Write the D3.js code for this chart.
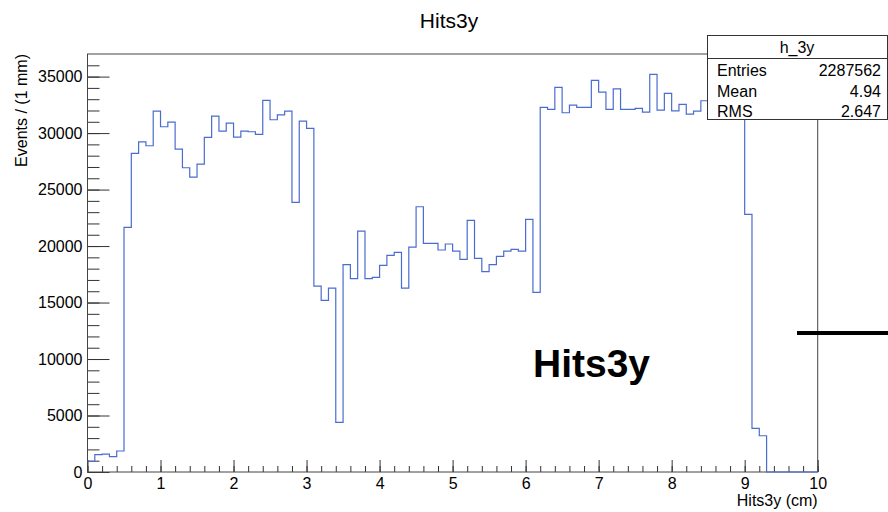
<!DOCTYPE html>
<html>
<head>
<meta charset="utf-8">
<script src="https://cdn.jsdelivr.net/npm/d3@7"></script>
<style>
    body { margin: 0; background: #fff; }
    text { font-family: "Liberation Sans", Arial, Helvetica, sans-serif; }
</style>
</head>
<body>
<div id="chart"></div>
<script>
// histogram h_3y, 100 bins of 1 mm from 0 to 10 cm
let xMin = 0, xMax = 10, binWidth = 0.1;
let counts = [
    950, 1530, 1590, 1360, 1860, 21650, 28200, 29230, 28880, 31950,
    30560, 30970, 28580, 26930, 26100, 27260, 29620, 31500, 30180, 30890,
    29650, 30180, 30120, 29880, 32890, 31180, 31620, 31950, 23870, 31060,
    30410, 16460, 15190, 16280, 4400, 18350, 17110, 21330, 17110, 17230,
    18290, 19180, 19440, 16280, 19910, 23480, 20240, 20240, 19650, 20180,
    19560, 18820, 22270, 18910, 17730, 18350, 19090, 19560, 19710, 19560,
    22360, 15900, 32270, 32100, 34040, 31800, 32480, 32270, 32270, 34660,
    33630, 32100, 33920, 32100, 32100, 32180, 31860, 35190, 32035, 33510,
    31970, 32540, 31680, 31950, 32860, 32400, 32600, 32300, 32700, 32200,
    22800, 3870, 3210, 0, 0, 0, 0, 0, 0, 0
];
let xTicks = [0, 1, 2, 3, 4, 5, 6, 7, 8, 9, 10];
let yTicks = [0, 5000, 10000, 15000, 20000, 25000, 30000, 35000];
let yMax = 37000;

let statsLabels = ["Entries", "Mean", "RMS"];
let statsValues = ["2287562", "4.94", "2.647"];

let width = 888, height = 512;
let margin = {top: 54, right: 70, bottom: 40, left: 87.5};

let svg = d3.select("#chart").append("svg")
    .attr("width", width)
    .attr("height", height);

let x = d3.scaleLinear().domain([xMin, xMax]).range([margin.left, 817.7]);
let y = d3.scaleLinear().domain([0, yMax]).range([height - margin.bottom, margin.top]);

// minor ticks
let xMinor = d3.range(xMin, xMax + 0.001, 0.2);
let yMinor = d3.range(0, yMax, 1000);

svg.append("g")
    .attr("transform", `translate(0,${y(0)})`)
    .call(d3.axisBottom(x).tickValues(xMinor).tickSize(-6).tickFormat(""))
    .call(g => g.select(".domain").remove());

svg.append("g")
    .attr("transform", `translate(${x(0)},0)`)
    .call(d3.axisLeft(y).tickValues(yMinor).tickSize(-12).tickFormat(""))
    .call(g => g.select(".domain").remove());

// major ticks
svg.append("g")
    .attr("transform", `translate(0,${y(0)})`)
    .call(d3.axisBottom(x).tickValues(xTicks).tickSize(-12).tickPadding(6).tickFormat(d3.format("d")))
    .call(g => g.select(".domain").remove())
    .call(g => g.selectAll("text").attr("font-size", 16).attr("fill", "#000"));

svg.append("g")
    .attr("transform", `translate(${x(0)},0)`)
    .call(d3.axisLeft(y).tickValues(yTicks).tickSize(-22).tickPadding(5).tickFormat(d3.format("d")))
    .call(g => g.select(".domain").remove())
    .call(g => g.selectAll("text").attr("font-size", 16).attr("fill", "#000"));

svg.selectAll(".tick line").attr("stroke", "#333");

// frame
svg.append("rect")
    .attr("x", x(xMin))
    .attr("y", y(yMax))
    .attr("width", x(xMax) - x(xMin))
    .attr("height", y(0) - y(yMax))
    .attr("fill", "none")
    .attr("stroke", "#444")
    .attr("stroke-width", 1);

// histogram outline
let steps = [];
counts.forEach((c, i) => {
    steps.push([xMin + i * binWidth, c]);
    steps.push([xMin + (i + 1) * binWidth, c]);
});
steps.push([xMax, 0]);

let line = d3.line()
    .x(d => x(d[0]))
    .y(d => y(d[1]));

svg.append("path")
    .attr("d", line(steps))
    .attr("fill", "none")
    .attr("stroke", "#4a6ccf")
    .attr("stroke-width", 1.2);

// titles
svg.append("text")
    .attr("x", 449)
    .attr("y", 28)
    .attr("text-anchor", "middle")
    .attr("font-size", 21)
    .text("Hits3y");

svg.append("text")
    .attr("x", x(xMax))
    .attr("y", 506)
    .attr("text-anchor", "end")
    .attr("font-size", 16)
    .text("Hits3y (cm)");

svg.append("text")
    .attr("transform", `translate(27,${margin.top}) rotate(-90)`)
    .attr("text-anchor", "end")
    .attr("font-size", 16)
    .text("Events / (1 mm)");

// big label and marker line
svg.append("text")
    .attr("x", 533)
    .attr("y", 377)
    .attr("font-size", 39)
    .attr("font-weight", "bold")
    .text("Hits3y");

svg.append("line")
    .attr("x1", 797)
    .attr("x2", 888)
    .attr("y1", 333)
    .attr("y2", 333)
    .attr("stroke", "#000")
    .attr("stroke-width", 4);

// stats box
let stats = svg.append("g");
stats.append("rect")
    .attr("x", 707.5)
    .attr("y", 35.5)
    .attr("width", 180)
    .attr("height", 84)
    .attr("fill", "#fff")
    .attr("stroke", "#333");

stats.append("line")
    .attr("x1", 707.5).attr("x2", 887.5)
    .attr("y1", 58.5).attr("y2", 58.5)
    .attr("stroke", "#333");

stats.append("text")
    .attr("x", 797)
    .attr("y", 53)
    .attr("text-anchor", "middle")
    .attr("font-size", 16)
    .text("h_3y");

statsLabels.forEach((lab, i) => {
    stats.append("text")
        .attr("x", 717)
        .attr("y", 76 + i * 20.5)
        .attr("font-size", 16)
        .text(lab);
    stats.append("text")
        .attr("x", 881)
        .attr("y", 76 + i * 20.5)
        .attr("text-anchor", "end")
        .attr("font-size", 16)
        .text(statsValues[i]);
});
</script>
</body>
</html>
